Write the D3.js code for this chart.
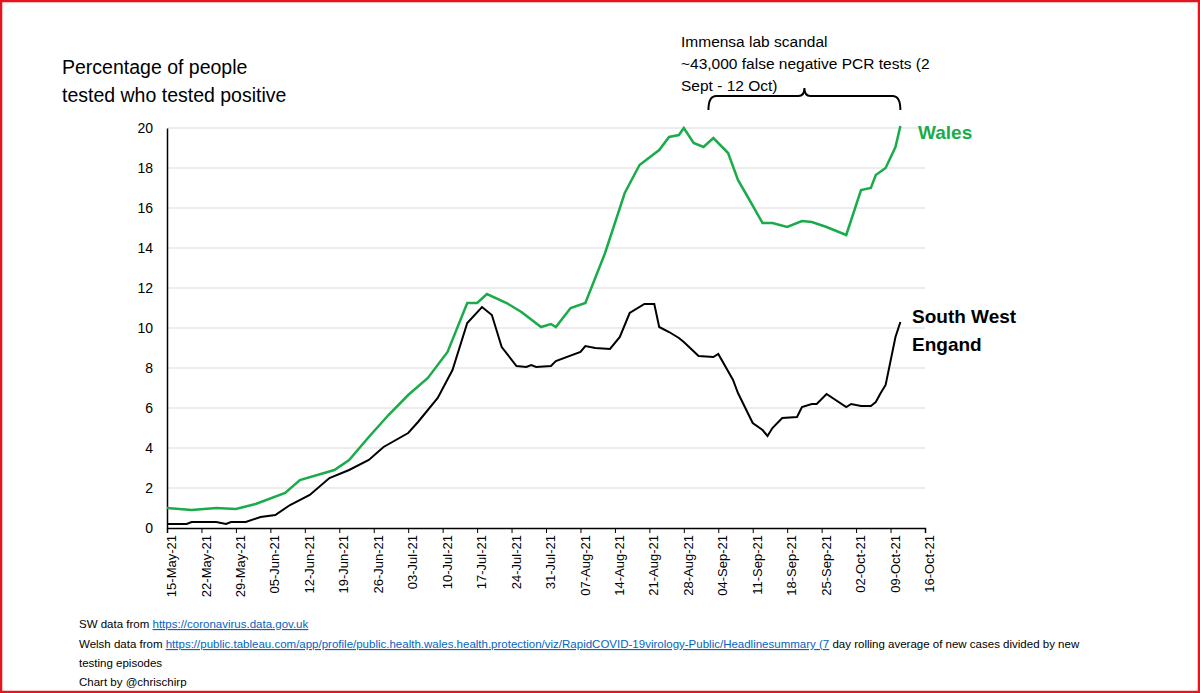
<!DOCTYPE html>
<html><head><meta charset="utf-8">
<script src="https://cdn.jsdelivr.net/npm/d3@7"></script>
<style>body{margin:0;background:#fff}svg{display:block;font-family:"Liberation Sans",Arial,sans-serif}</style>
</head><body><svg id="c" width="1200" height="693"></svg>
<script>
const startDate = "2021-05-15";
const tickLabels = ["15-May-21","22-May-21","29-May-21","05-Jun-21","12-Jun-21","19-Jun-21","26-Jun-21","03-Jul-21","10-Jul-21","17-Jul-21","24-Jul-21","31-Jul-21","07-Aug-21","14-Aug-21","21-Aug-21","28-Aug-21","04-Sep-21","11-Sep-21","18-Sep-21","25-Sep-21","02-Oct-21","09-Oct-21","16-Oct-21"];
const yTicks = [0,2,4,6,8,10,12,14,16,18,20];
// [day offset from 15-May-21, percent positive]
const wales = [[0,1.0],[5,0.9],[10,1.0],[14,0.95],[18,1.2],[24,1.75],[27,2.4],[34,2.9],[37,3.4],[41,4.55],[45,5.65],[49,6.65],[53,7.5],[57,8.8],[61,11.25],[63,11.25],[65,11.7],[69,11.25],[72,10.8],[76,10.05],[78,10.2],[79,10.05],[82,11.0],[85,11.25],[89,13.75],[93,16.75],[96,18.15],[100,18.9],[102,19.55],[104,19.65],[105,20.0],[107,19.25],[109,19.05],[111,19.5],[114,18.75],[116,17.4],[118,16.55],[121,15.25],[123,15.25],[126,15.05],[129,15.35],[131,15.3],[134,15.05],[138,14.65],[141,16.9],[143,17.0],[144,17.65],[146,18.0],[148,19.05],[149,20.1]];
const southWest = [[0,0.2],[4,0.2],[5,0.3],[10,0.3],[12,0.2],[13,0.3],[16,0.3],[19,0.55],[22,0.65],[25,1.15],[29,1.65],[33,2.5],[37,2.9],[41,3.4],[44,4.05],[49,4.75],[51,5.3],[55,6.5],[58,7.9],[61,10.25],[64,11.05],[66,10.65],[68,9.05],[71,8.1],[73,8.05],[74,8.15],[75,8.05],[78,8.1],[79,8.35],[84,8.8],[85,9.1],[87,9.0],[90,8.95],[92,9.55],[94,10.75],[97,11.2],[99,11.2],[100,10.05],[102,9.8],[104,9.5],[105,9.3],[108,8.6],[111,8.55],[112,8.7],[115,7.4],[116,6.75],[119,5.25],[121,4.9],[122,4.6],[123,5.0],[125,5.5],[128,5.55],[129,6.05],[131,6.2],[132,6.2],[134,6.7],[138,6.05],[139,6.2],[141,6.1],[143,6.1],[144,6.3],[145,6.75],[146,7.15],[148,9.55],[149,10.3]];

const svg = d3.select("#c");
svg.append("rect").attr("x",1).attr("y",1).attr("width",1198).attr("height",691).attr("fill","#fff").attr("stroke","#e8141b").attr("stroke-width",2.5);
const x = d3.scaleLinear().domain([0,154]).range([167,925]);
const y = d3.scaleLinear().domain([0,20]).range([528,128]);
const green = "#1aab4a";

svg.append("g").selectAll("line").data(yTicks.filter(d=>d>0)).join("line")
  .attr("x1",168).attr("x2",925).attr("y1",d=>y(d)).attr("y2",d=>y(d)).attr("stroke","#d9d9d9").attr("stroke-width",1);
const ya = svg.append("g").attr("transform","translate(167,0)").call(d3.axisLeft(y).tickValues(yTicks).tickSize(0).tickPadding(14));
ya.select(".domain").attr("stroke","#000").attr("stroke-width",1.5);
ya.selectAll("text").attr("font-size",14).attr("fill","#000");
const xa = svg.append("g").attr("transform","translate(0,528)").call(d3.axisBottom(x).tickValues(tickLabels.map((d,i)=>i*7)).tickSize(5).tickFormat((d,i)=>tickLabels[i]));
xa.select(".domain").attr("stroke","#000").attr("stroke-width",1.5);
xa.selectAll("line").attr("stroke","#000");
xa.selectAll("text").attr("font-size",13).attr("fill","#000")
  .attr("transform","rotate(-90)").attr("text-anchor","end").attr("dx","-7").attr("dy","0.35em").attr("y",4).attr("x",0);

const line = d3.line().x(d=>x(d[0])).y(d=>y(d[1]));
svg.append("path").datum(wales).attr("d",line).attr("fill","none").attr("stroke",green).attr("stroke-width",2.5);
svg.append("path").datum(southWest).attr("d",line).attr("fill","none").attr("stroke","#000").attr("stroke-width",2);

svg.append("text").attr("x",62).attr("y",74).attr("font-size",19.5).text("Percentage of people");
svg.append("text").attr("x",62).attr("y",102).attr("font-size",19.5).text("tested who tested positive");
svg.append("text").attr("x",918).attr("y",139).attr("font-size",19).attr("font-weight","bold").attr("fill",green).text("Wales");
svg.append("text").attr("x",912).attr("y",323).attr("font-size",19).attr("font-weight","bold").text("South West");
svg.append("text").attr("x",912).attr("y",351).attr("font-size",19).attr("font-weight","bold").text("Engand");

["Immensa lab scandal","~43,000 false negative PCR tests (2","Sept - 12 Oct)"].forEach((t,i)=>
  svg.append("text").attr("x",681).attr("y",47+i*22).attr("font-size",15.5).text(t));
const bx1 = x(110), bx2 = x(149), bm = (bx1+bx2)/2;
svg.append("path").attr("d",`M${bx1},110 Q${bx1},96 ${bx1+8},96 L${bm-6},96 Q${bm},96 ${bm},88 Q${bm},96 ${bm+6},96 L${bx2-8},96 Q${bx2},96 ${bx2},110`)
  .attr("fill","none").attr("stroke","#000").attr("stroke-width",2);

const f = svg.append("g").attr("font-size",11.5);
const t1 = f.append("text").attr("x",79).attr("y",628);
t1.append("tspan").text("SW data from ");
t1.append("tspan").attr("fill","#0563c1").attr("text-decoration","underline").text("https://coronavirus.data.gov.uk");
const t2 = f.append("text").attr("x",79).attr("y",648);
t2.append("tspan").text("Welsh data from ");
t2.append("tspan").attr("fill","#0563c1").attr("text-decoration","underline").text("https://public.tableau.com/app/profile/public.health.wales.health.protection/viz/RapidCOVID-19virology-Public/Headlinesummary (7");
t2.append("tspan").text(" day rolling average of new cases divided by new");
f.append("text").attr("x",79).attr("y",667).text("testing episodes");
f.append("text").attr("x",79).attr("y",686).text("Chart by @chrischirp");
</script></body></html>
